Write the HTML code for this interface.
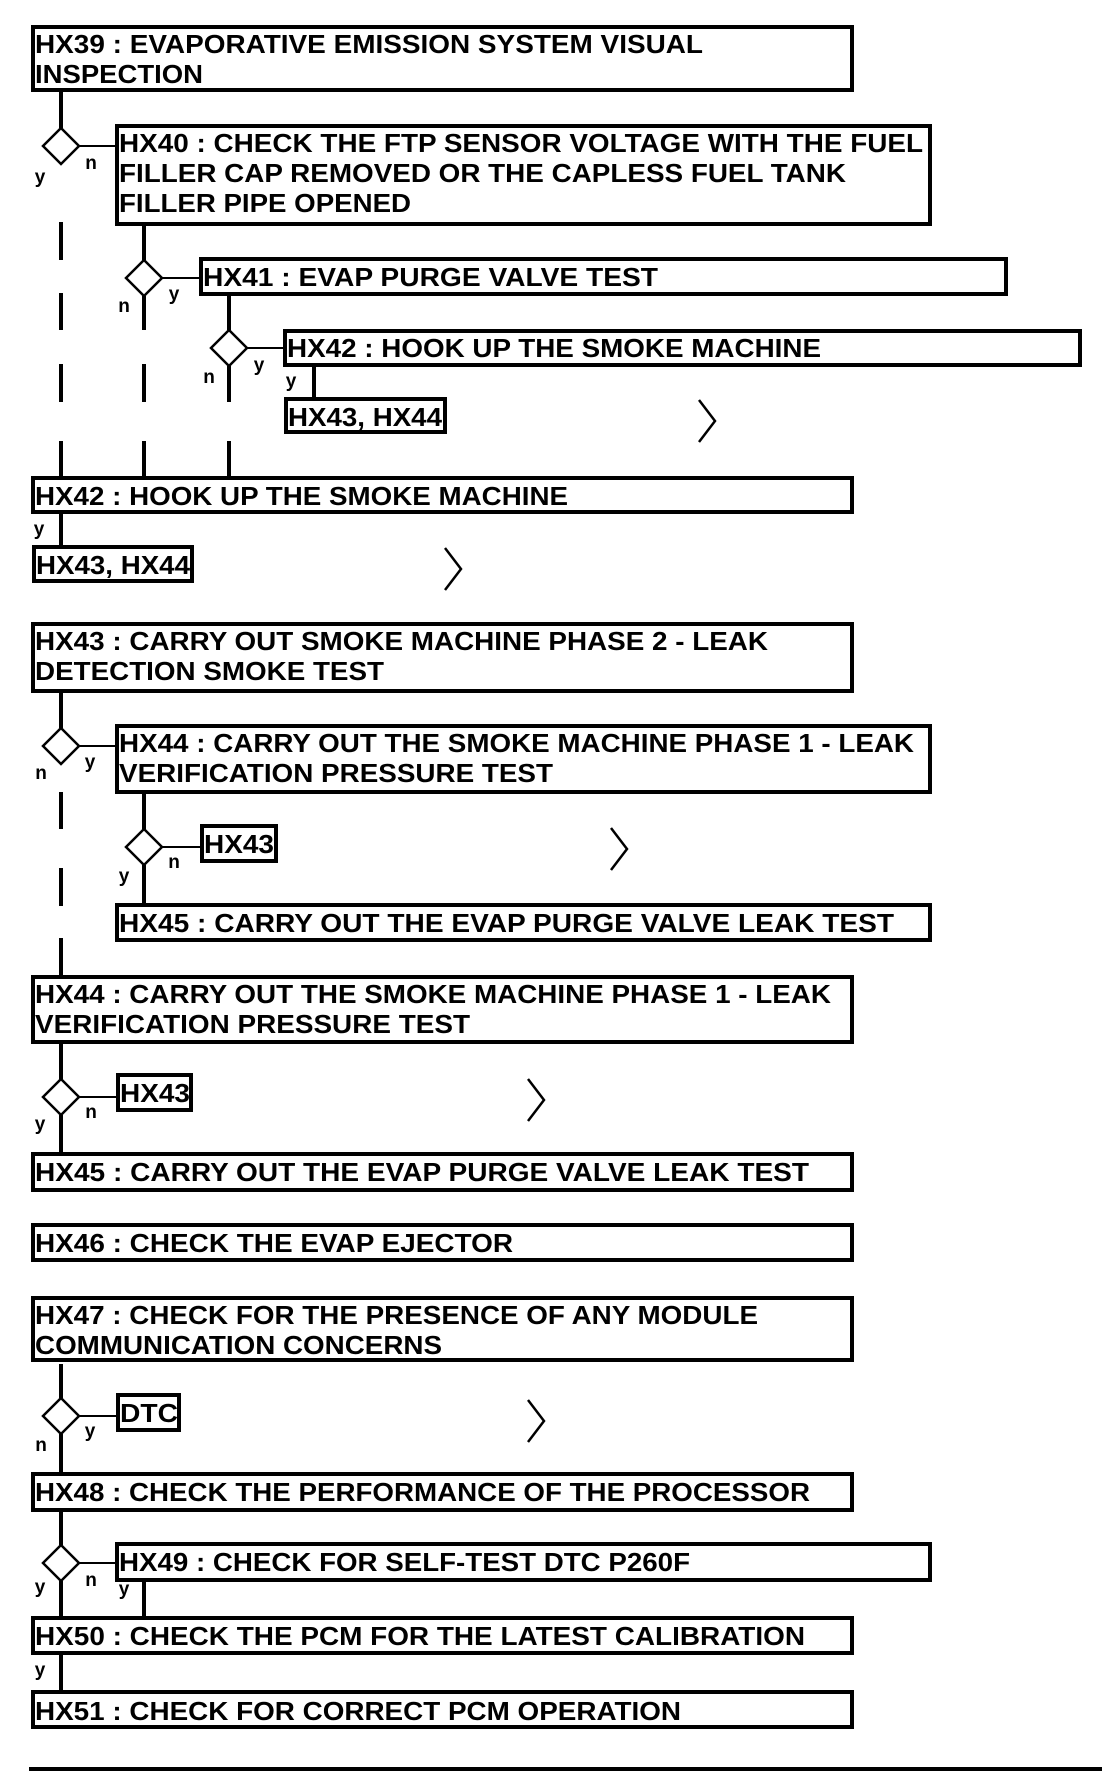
<!DOCTYPE html>
<html><head><meta charset="utf-8"><style>
html,body{margin:0;padding:0;background:#fff}
svg{display:block}
text{font-family:"Liberation Sans",Arial,sans-serif;font-weight:bold;font-size:26px;fill:#000}
.l{font-size:19px}
</style></head><body>
<svg width="1120" height="1790" viewBox="0 0 1120 1790" xmlns="http://www.w3.org/2000/svg">
<g fill="none" stroke="#000" stroke-width="4">
<rect x="33" y="27" width="819" height="63"/>
<rect x="117" y="126" width="813" height="98"/>
<rect x="201" y="259" width="805" height="35"/>
<rect x="285" y="331" width="795" height="34"/>
<rect x="286" y="399" width="159" height="33"/>
<rect x="33" y="478" width="819" height="34"/>
<rect x="34" y="547" width="158" height="34"/>
<rect x="33" y="624" width="819" height="67"/>
<rect x="117" y="726" width="813" height="66"/>
<rect x="202" y="826" width="74" height="35"/>
<rect x="117" y="905" width="813" height="35"/>
<rect x="33" y="977" width="819" height="65"/>
<rect x="118" y="1075" width="73" height="35"/>
<rect x="33" y="1154" width="819" height="36"/>
<rect x="33" y="1225" width="819" height="35"/>
<rect x="33" y="1298" width="819" height="62"/>
<rect x="118" y="1395" width="61" height="35"/>
<rect x="33" y="1474" width="819" height="36"/>
<rect x="117" y="1544" width="813" height="36"/>
<rect x="33" y="1618" width="819" height="35"/>
<rect x="33" y="1692" width="819" height="35"/>
<!-- vertical connectors -->
<path d="M61 92V128 M61 222V260 M61 293V330 M61 364V402 M61 441V476
M144 226V260 M144 296V330 M144 364V402 M144 441V476
M229 296V330 M229 366V402 M229 441V476
M314 367V397 M61 514V545
M61 693V728 M61 792V829 M61 868V906 M61 938V975
M144 794V829 M144 865V903
M61 1044V1079 M61 1115V1152
M61 1364V1398 M61 1434V1472
M61 1512V1545 M61 1581V1616 M144 1582V1616
M61 1655V1692"/>
<path d="M29 1769H1102"/>
</g>
<g fill="#fff" stroke="#000" stroke-width="2.5">
<path d="M61 128L79 146L61 164L43 146Z"/>
<path d="M144 260L162 278L144 296L126 278Z"/>
<path d="M229 330L247 348L229 366L211 348Z"/>
<path d="M61 728L79 746L61 764L43 746Z"/>
<path d="M144 829L162 847L144 865L126 847Z"/>
<path d="M61 1079L79 1097L61 1115L43 1097Z"/>
<path d="M61 1398L79 1416L61 1434L43 1416Z"/>
<path d="M61 1545L79 1563L61 1581L43 1563Z"/>
</g>
<g fill="none" stroke="#000" stroke-width="2">
<path d="M79 146H115 M162 278H199 M247 348H283 M79 746H115 M162 847H200 M79 1097H116 M79 1416H116 M79 1563H115"/>
</g>
<g fill="none" stroke="#000" stroke-width="2.5">
<path d="M699 400L715 421L699 442"/>
<path d="M445 548L461 569L445 590"/>
<path d="M611 828L627 849L611 870"/>
<path d="M528 1079L544 1100L528 1121"/>
<path d="M528 1400L544 1421L528 1442"/>
</g>
<text x="35" y="53" textLength="668" lengthAdjust="spacingAndGlyphs">HX39 : EVAPORATIVE EMISSION SYSTEM VISUAL</text>
<text x="35" y="83" textLength="168" lengthAdjust="spacingAndGlyphs">INSPECTION</text>
<text x="119" y="152" textLength="804" lengthAdjust="spacingAndGlyphs">HX40 : CHECK THE FTP SENSOR VOLTAGE WITH THE FUEL</text>
<text x="119" y="182" textLength="727" lengthAdjust="spacingAndGlyphs">FILLER CAP REMOVED OR THE CAPLESS FUEL TANK</text>
<text x="119" y="212" textLength="292" lengthAdjust="spacingAndGlyphs">FILLER PIPE OPENED</text>
<text x="203" y="286" textLength="455" lengthAdjust="spacingAndGlyphs">HX41 : EVAP PURGE VALVE TEST</text>
<text x="287" y="357" textLength="534" lengthAdjust="spacingAndGlyphs">HX42 : HOOK UP THE SMOKE MACHINE</text>
<text x="288" y="426" textLength="154" lengthAdjust="spacingAndGlyphs">HX43, HX44</text>
<text x="35" y="505" textLength="533" lengthAdjust="spacingAndGlyphs">HX42 : HOOK UP THE SMOKE MACHINE</text>
<text x="36" y="574" textLength="154" lengthAdjust="spacingAndGlyphs">HX43, HX44</text>
<text x="35" y="650" textLength="733" lengthAdjust="spacingAndGlyphs">HX43 : CARRY OUT SMOKE MACHINE PHASE 2 - LEAK</text>
<text x="35" y="680" textLength="349" lengthAdjust="spacingAndGlyphs">DETECTION SMOKE TEST</text>
<text x="119" y="752" textLength="795" lengthAdjust="spacingAndGlyphs">HX44 : CARRY OUT THE SMOKE MACHINE PHASE 1 - LEAK</text>
<text x="119" y="782" textLength="434" lengthAdjust="spacingAndGlyphs">VERIFICATION PRESSURE TEST</text>
<text x="204" y="853" textLength="70" lengthAdjust="spacingAndGlyphs">HX43</text>
<text x="119" y="932" textLength="775" lengthAdjust="spacingAndGlyphs">HX45 : CARRY OUT THE EVAP PURGE VALVE LEAK TEST</text>
<text x="35" y="1003" textLength="796" lengthAdjust="spacingAndGlyphs">HX44 : CARRY OUT THE SMOKE MACHINE PHASE 1 - LEAK</text>
<text x="35" y="1033" textLength="435" lengthAdjust="spacingAndGlyphs">VERIFICATION PRESSURE TEST</text>
<text x="120" y="1102" textLength="70" lengthAdjust="spacingAndGlyphs">HX43</text>
<text x="35" y="1181" textLength="774" lengthAdjust="spacingAndGlyphs">HX45 : CARRY OUT THE EVAP PURGE VALVE LEAK TEST</text>
<text x="35" y="1252" textLength="478" lengthAdjust="spacingAndGlyphs">HX46 : CHECK THE EVAP EJECTOR</text>
<text x="35" y="1324" textLength="723" lengthAdjust="spacingAndGlyphs">HX47 : CHECK FOR THE PRESENCE OF ANY MODULE</text>
<text x="35" y="1354" textLength="407" lengthAdjust="spacingAndGlyphs">COMMUNICATION CONCERNS</text>
<text x="120" y="1422" textLength="58" lengthAdjust="spacingAndGlyphs">DTC</text>
<text x="35" y="1501" textLength="775" lengthAdjust="spacingAndGlyphs">HX48 : CHECK THE PERFORMANCE OF THE PROCESSOR</text>
<text x="119" y="1571" textLength="571" lengthAdjust="spacingAndGlyphs">HX49 : CHECK FOR SELF-TEST DTC P260F</text>
<text x="35" y="1645" textLength="770" lengthAdjust="spacingAndGlyphs">HX50 : CHECK THE PCM FOR THE LATEST CALIBRATION</text>
<text x="35" y="1720" textLength="646" lengthAdjust="spacingAndGlyphs">HX51 : CHECK FOR CORRECT PCM OPERATION</text>
<g class="l" text-anchor="middle">
<text class="l" x="40" y="183">y</text>
<text class="l" x="91" y="169">n</text>
<text class="l" x="124" y="312">n</text>
<text class="l" x="174" y="300">y</text>
<text class="l" x="209" y="383">n</text>
<text class="l" x="259" y="371">y</text>
<text class="l" x="291" y="387">y</text>
<text class="l" x="39" y="535">y</text>
<text class="l" x="41" y="779">n</text>
<text class="l" x="90" y="768">y</text>
<text class="l" x="124" y="882">y</text>
<text class="l" x="174" y="868">n</text>
<text class="l" x="40" y="1130">y</text>
<text class="l" x="91" y="1118">n</text>
<text class="l" x="41" y="1451">n</text>
<text class="l" x="90" y="1437">y</text>
<text class="l" x="40" y="1593">y</text>
<text class="l" x="91" y="1586">n</text>
<text class="l" x="124" y="1595">y</text>
<text class="l" x="40" y="1676">y</text>
</g>
</svg>
</body></html>
